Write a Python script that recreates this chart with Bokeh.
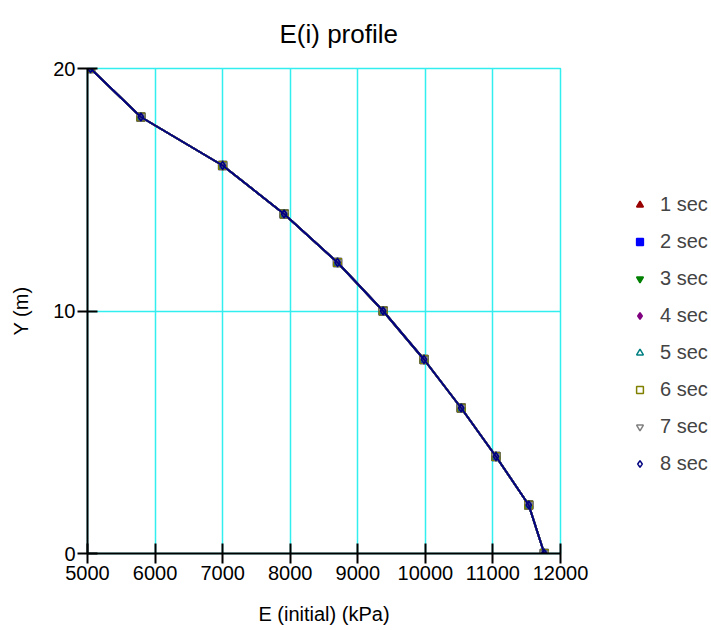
from bokeh.plotting import figure
from bokeh.models import Range1d, Legend, LegendItem, FixedTicker, ColumnDataSource
from bokeh.embed import file_html
from bokeh.resources import INLINE

# Data
y_m = [0, 2, 4, 6, 8, 10, 12, 14, 16, 18, 20]
e_initial = [11760, 11530, 11045, 10530, 9980, 9375, 8700, 7910, 7000, 5790, 5045]
series_names = ["1 sec", "2 sec", "3 sec", "4 sec", "5 sec", "6 sec", "7 sec", "8 sec"]
x_ticks = [5000, 6000, 7000, 8000, 9000, 10000, 11000, 12000]
y_ticks = [0, 10, 20]

colors = ["#990000", "#0000FF", "#008000", "#800080", "#008080", "#808000", "#808080", "#000080"]
markers = ["triangle", "square", "inverted_triangle", "diamond", "triangle", "square", "inverted_triangle", "diamond"]
filled = [True, True, True, True, False, False, False, False]

FONT = "Liberation Sans"
GRID = "#33EEEE"

p = figure(frame_width=473, frame_height=485, output_backend="svg", toolbar_location=None,
           x_range=Range1d(5000, 12000), y_range=Range1d(0, 20),
           min_border_left=87, min_border_right=151, min_border_top=68, min_border_bottom=77,
           background_fill_color="white", border_fill_color="white")
p.outline_line_color = GRID
p.outline_line_width = 1.5

p.title.text = "E(i) profile"
p.title.text_font = FONT
p.title.text_font_size = "26px"
p.title.text_font_style = "normal"
p.title.text_color = "black"
p.title.align = "left"
p.title.offset = 192
p.title.vertical_align = "top"
p.title.standoff = 36

for ax in (p.xaxis[0], p.yaxis[0]):
    ax.axis_line_color = "black"
    ax.axis_line_width = 2
    ax.major_tick_line_color = "black"
    ax.major_tick_line_width = 2
    ax.major_tick_out = 10
    ax.major_tick_in = 10
    ax.minor_tick_line_color = None
    ax.major_label_text_font = FONT
    ax.major_label_text_font_size = "20px"
    ax.major_label_text_color = "black"
    ax.axis_label_text_font = FONT
    ax.axis_label_text_font_size = "20px"
    ax.axis_label_text_font_style = "normal"
    ax.axis_label_text_color = "black"

p.xaxis.ticker = FixedTicker(ticks=x_ticks)
p.yaxis.ticker = FixedTicker(ticks=y_ticks)
p.xaxis.major_label_standoff = 2
p.yaxis.major_label_standoff = 2
p.xaxis.axis_label = "E (initial) (kPa)"
p.yaxis.axis_label = "Y (m)"
p.xaxis.axis_label_standoff = 20
p.yaxis.axis_label_standoff = 18

p.xgrid.ticker = FixedTicker(ticks=x_ticks)
p.ygrid.ticker = FixedTicker(ticks=y_ticks)
p.grid.grid_line_color = GRID
p.grid.grid_line_width = 1.5

src = ColumnDataSource(dict(x=e_initial, y=y_m))
items = []
for name, c, m, f in zip(series_names, colors, markers, filled):
    p.line("x", "y", source=src, line_color=c, line_width=2)
    r = p.scatter("x", "y", source=src, marker=m, size=8, line_color=c,
                  fill_color=c if f else None, line_width=1.5)
    items.append(LegendItem(label=name, renderers=[r]))

legend = Legend(items=items, location=(71, 78), glyph_width=17, glyph_height=17,
                label_height=20, spacing=14, padding=0, margin=0, label_standoff=12,
                label_text_font=FONT, label_text_font_size="20px",
                border_line_color=None, background_fill_alpha=0)
p.add_layout(legend, "right")

open("out.html", "w").write(file_html(p, INLINE))
